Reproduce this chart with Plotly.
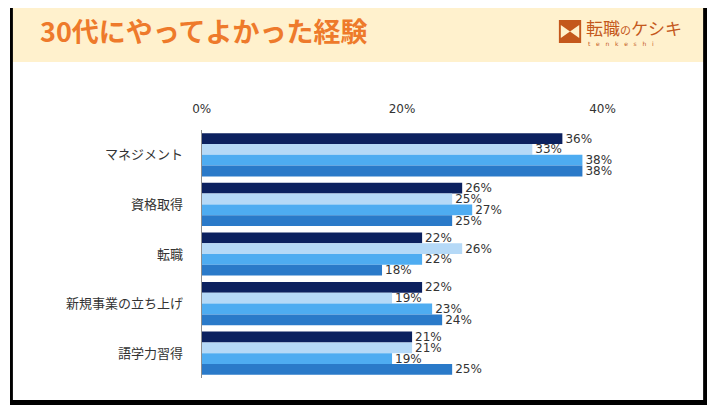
import plotly.graph_objects as go

W, H = 720, 405

categories = ["マネジメント", "資格取得", "転職", "新規事業の立ち上げ", "語学力習得"]
series_names = ["系列1", "系列2", "系列3", "系列4"]
series_values = [
    [36, 26, 22, 22, 21],
    [33, 25, 26, 19, 21],
    [38, 27, 22, 23, 19],
    [38, 25, 18, 24, 25],
]
series_colors = ["#0C215F", "#B5D9F7", "#4EACF1", "#2A7AC9"]
tick_vals = [0, 20, 40]
tick_text = ["0%", "20%", "40%"]
title_text = "30代にやってよかった経験"

FONT = "DejaVu Sans, Noto Sans CJK JP, sans-serif"

def px(x):
    return x / W

def py(y):
    return 1 - y / H

fig = go.Figure()
for name, vals, col in zip(series_names, series_values, series_colors):
    fig.add_trace(go.Bar(
        y=categories, x=vals, name=name, orientation="h",
        marker=dict(color=col, line=dict(width=0)),
        text=[f"{v}%" for v in vals], textposition="outside",
        textfont=dict(family=FONT, size=12, color="#333333"),
        cliponaxis=False, constraintext="none",
    ))

shapes = []
shapes.append(dict(type="rect", xref="paper", yref="paper", x0=px(0), x1=px(720), y0=py(62), y1=py(0),
                   fillcolor="#FFF1CD", line=dict(width=0), layer="below"))
for (x0, y0, x1, y1) in [(0, 0, 720, 3), (0, 0, 3, 405), (716, 0, 720, 405), (0, 400, 720, 405)]:
    shapes.append(dict(type="rect", xref="paper", yref="paper", x0=px(x0), x1=px(x1), y0=py(y1), y1=py(y0),
                       fillcolor="#000000", line=dict(width=0), layer="above"))
lx0, ly0, lx1, ly1 = 567, 20, 590, 43
shapes.append(dict(type="rect", xref="paper", yref="paper", x0=px(lx0), x1=px(lx1), y0=py(ly1), y1=py(ly0),
                   fillcolor="#C4581C", line=dict(width=0)))
cx, cy = (lx0 + lx1) / 2, (ly0 + ly1) / 2
path = (f"M {px(lx0+2)} {py(ly0+5)} L {px(cx)} {py(cy)} L {px(lx0+2)} {py(ly1-5)} Z "
        f"M {px(lx1-2)} {py(ly0+5)} L {px(cx)} {py(cy)} L {px(lx1-2)} {py(ly1-5)} Z")
shapes.append(dict(type="path", xref="paper", yref="paper", path=path, fillcolor="#FFF1CD", line=dict(width=0)))

annotations = [
    dict(text=f"<b>{title_text}</b>", x=px(29), y=py(31), xref="paper", yref="paper",
         xanchor="left", yanchor="middle", showarrow=False,
         font=dict(family="Noto Sans CJK JP", size=27, color="#EE7A2B", weight=900)),
    dict(text="転職<span style='font-size:11px'>の</span>ケシキ", x=px(593), y=py(28), xref="paper", yref="paper",
         xanchor="left", yanchor="middle", showarrow=False,
         font=dict(family="Noto Sans CJK JP", size=17, color="#C4581C")),
    dict(text="t   e   n   k   e   s   h   i", x=px(595), y=py(44), xref="paper", yref="paper",
         xanchor="left", yanchor="middle", showarrow=False,
         font=dict(family="DejaVu Sans", size=6, color="#C4581C")),
]

fig.update_layout(
    width=W, height=H,
    margin=dict(l=0, r=0, t=0, b=0),
    paper_bgcolor="#FFFFFF", plot_bgcolor="rgba(0,0,0,0)",
    barmode="group", bargap=0.13, bargroupgap=0,
    showlegend=False,
    shapes=shapes, annotations=annotations,
    xaxis=dict(domain=[px(198), px(612)], range=[0, 40], side="top",
               tickvals=tick_vals, ticktext=tick_text, showgrid=False, zeroline=False,
               showline=False, ticks="", ticklabelstandoff=14,
               tickfont=dict(family=FONT, size=12, color="#333333"), fixedrange=True),
    yaxis=dict(domain=[py(378), py(130)], autorange="reversed", categoryorder="array",
               categoryarray=categories, showgrid=False, zeroline=False,
               showline=True, linecolor="#8C8C8C", linewidth=1, ticks="",
               ticklabelstandoff=15,
               tickfont=dict(family=FONT, size=13, color="#333333"), fixedrange=True),
)

# shift the figure over the default 8px body margin without changing page layout
shift_js = (
    "var d=document.querySelector('.plotly-graph-div');"
    "if(d){d.style.transform='translate(-8px,-8px)';}"
)

fig.write_html("out.html", config={"displayModeBar": False}, post_script=shift_js)
